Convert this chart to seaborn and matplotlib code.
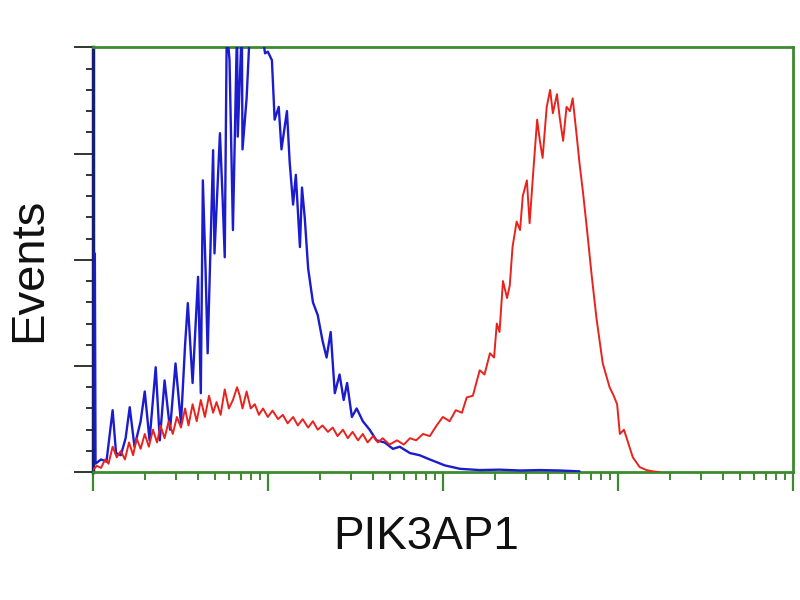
import matplotlib
matplotlib.use("Agg")
import matplotlib.pyplot as plt
import matplotlib.ticker as mticker
import numpy as np
import pandas as pd
import seaborn as sns

# channel numbers (1024 channels over 4 log decades) and event counts (% of full scale)
blue_ch = [0, 3, 4, 12, 20, 29, 34, 41, 48, 54, 61, 70, 76, 83, 92, 98, 105, 113, 121,
           129, 135, 139, 146, 154, 158, 161, 165, 168, 176, 178, 186, 190, 193, 196,
           200, 205, 211, 212, 218, 219, 225, 230, 238, 247, 252, 256, 262, 266, 272,
           276, 284, 288, 293, 297, 303, 306, 310, 315, 322, 329, 336, 342, 348, 354,
           361, 367, 372, 379, 386, 395, 405, 415, 427, 439, 449, 464, 478, 493, 515,
           537, 566, 595, 625, 654, 683, 712]
blue_ev = [51.5, 51.5, 2, 3, 2.5, 14.6, 4.5, 4, 8, 15.3, 6, 12, 19, 7.5, 24.7, 7.5, 21.6, 10,
           25.6, 11.5, 30, 39.8, 21, 46, 18.6, 68.7, 47.5, 28, 75.8, 51.5, 79.8, 64,
           50.6, 105, 97, 57, 105, 79, 105, 76, 88, 105, 108, 104, 98.6, 99, 97, 83, 86,
           76, 85, 73, 63, 70, 53, 67, 60, 48, 40, 37, 31, 27, 33, 18.6, 23, 17, 21, 13,
           15, 12, 10, 7.5, 7, 5.5, 6, 4.5, 4, 3, 1.6, 0.8, 0.5, 0.6, 0.4, 0.5, 0.4, 0.2]

red_ch = [0, 6, 12, 18, 23, 29, 35, 41, 47, 53, 59, 64, 70, 76, 82, 88, 94, 99, 105,
          111, 117, 123, 129, 135, 140, 146, 152, 158, 164, 170, 176, 181, 187, 193,
          199, 205, 211, 215, 219, 225, 231, 237, 243, 249, 256, 263, 271, 278, 285,
          293, 300, 307, 315, 322, 329, 336, 344, 351, 358, 366, 373, 380, 388, 395,
          402, 410, 417, 424, 434, 445, 455, 464, 473, 483, 493, 503, 512, 522, 531,
          540, 547, 556, 566, 573, 581, 587, 591, 595, 600, 606, 610, 614, 620, 625,
          629, 635, 639, 644, 650, 654, 658, 664, 669, 673, 679, 683, 688, 693, 698,
          702, 708, 712, 717, 723, 730, 737, 746, 756, 762, 767, 771, 777, 781, 790,
          800, 810, 819, 829]
red_ev = [0.5, 1.5, 1, 3, 2, 6, 3.5, 5, 3, 7, 4, 8, 5.5, 9, 6, 10, 7, 11, 8, 12, 9, 13,
          10.5, 15, 11, 16, 12, 17, 13, 18, 14, 16.5, 13.5, 19.5, 15, 17, 20, 18, 15, 19,
          15, 16, 13.5, 15, 13, 14.5, 12.5, 13.5, 11.5, 13, 11, 12.5, 10.5, 12, 10, 11,
          9.5, 10.5, 8.5, 10, 8, 9.5, 7.5, 9, 7, 8.5, 7, 8, 6.5, 7.5, 6.5, 8, 7.5, 9,
          8.5, 11, 13, 12, 14.6, 14, 17.6, 18, 24, 23, 28, 27, 35, 33, 45, 41, 44, 53,
          59, 57, 65, 68.7, 58.6, 70, 83, 78, 74, 86, 90, 84.5, 89, 83.5, 78, 86, 85, 88,
          79, 72.7, 66, 57, 46, 36, 25.6, 20, 18, 16, 9, 10, 8, 3.5, 1.2, 0.5, 0.2, 0]

blue_df = pd.DataFrame({"fl": 10 ** (np.array(blue_ch) / 256), "events": blue_ev})
red_df = pd.DataFrame({"fl": 10 ** (np.array(red_ch) / 256), "events": red_ev})

sns.set_style("white")
plt.rcParams['font.family'] = ['Liberation Sans', 'DejaVu Sans']

fig = plt.figure(figsize=(8, 6), dpi=100)
ax = fig.add_axes([0.116, 0.213, 0.875, 0.708])

sns.lineplot(data=blue_df, x="fl", y="events", ax=ax, color="#1c1ccf",
             linewidth=1.7, estimator=None, sort=False, zorder=3)
sns.lineplot(data=red_df, x="fl", y="events", ax=ax, color="#e8231d",
             linewidth=1.4, estimator=None, sort=False, zorder=3)

ax.set_xscale("log")
ax.set_xlim(1, 10 ** 4)
ax.set_ylim(0, 100)

green = "#3b8a2e"
for side in ["top", "right", "bottom"]:
    ax.spines[side].set_color(green)
    ax.spines[side].set_linewidth(2.0)
ax.spines["left"].set_color("#14206e")
ax.spines["left"].set_linewidth(2.5)

ax.xaxis.set_major_locator(mticker.LogLocator(base=10, numticks=10))
ax.xaxis.set_minor_locator(mticker.LogLocator(base=10, subs=np.arange(2, 10), numticks=10))
ax.yaxis.set_major_locator(mticker.MultipleLocator(25))
ax.yaxis.set_minor_locator(mticker.MultipleLocator(5))
ax.tick_params(axis="x", which="major", direction="out", length=14, width=1.6,
               color=green, labelbottom=False, bottom=True)
ax.tick_params(axis="x", which="minor", direction="out", length=5.5, width=1.4,
               color=green, bottom=True)
ax.tick_params(axis="y", which="major", direction="out", length=14, width=1.4,
               color="#2c3a2c", labelleft=False, left=True)
ax.tick_params(axis="y", which="minor", direction="out", length=5, width=1.4,
               color="#2c3a2c", left=True)
ax.set_xlabel("")
ax.set_ylabel("")

fig.text(0.533, 0.105, "PIK3AP1", fontsize=33, ha="center", va="center", color="#111111")
fig.text(0.036, 0.55, "Events", fontsize=34, ha="center", va="center",
         rotation=90, color="#111111")

fig.savefig("out.png", dpi=100)
